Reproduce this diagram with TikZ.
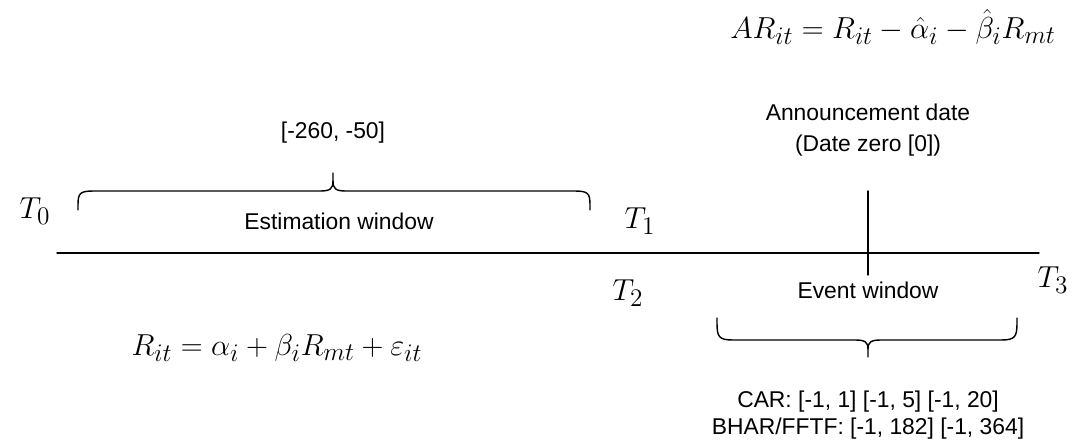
\documentclass[tikz,border=0pt]{standalone}
\usepackage[no-math]{fontspec}
\setmainfont{Liberation Sans}
\tikzset{
  txt/.style={font=\fontsize{13}{15}\selectfont,inner sep=1pt},
  mth/.style={font=\fontsize{19}{22}\selectfont,inner sep=1pt},
  brc/.style={line width=0.8pt}
}
\begin{document}
\begin{tikzpicture}[x=0.02cm,y=0.02cm,line cap=round,line join=round]
  \useasboundingbox (0,0) rectangle (1082,447);
  % time axis and day zero
  \coordinate (a0) at (57,194);
  \coordinate (a1) at (1039,194);
  \draw[line width=0.8pt] (a0) -- (a1);
  \coordinate (d0) at (868,256);
  \coordinate (d1) at (868,172);
  \draw[line width=0.8pt] (d0) -- (d1);
  % estimation window
  \draw[brc] (78,237) -- (78,242) .. controls (78,254) and (80,256) .. (94,256)
    -- (320,256) .. controls (330,256) and (333,258) .. (333,266) -- (333,274);
  \draw[brc] (333,266) .. controls (333,258) and (336,256) .. (346,256)
    -- (574,256) .. controls (588,256) and (590,254) .. (590,242) -- (590,237);
  \node[txt] (est) at (339,226) {Estimation window};
  \node[txt] (estrange) at (333,314) {[-260, -50]};
  % event window
  \draw[brc] (717,129) -- (717,124) .. controls (717,110) and (719,107) .. (733,107)
    -- (855,107) .. controls (865,107) and (868,105) .. (868,98) -- (868,90);
  \draw[brc] (868,98) .. controls (868,105) and (871,107) .. (881,107)
    -- (1001,107) .. controls (1015,107) and (1017,110) .. (1017,124) -- (1017,129);
  \node[txt] (evt) at (868,157) {Event window};
  \node[txt,align=center] (evtrange) at (868,32)
    {CAR: [-1, 1] [-1, 5] [-1, 20]\\BHAR/FFTF: [-1, 182] [-1, 364]};
  \node[txt,align=center,font=\fontsize{13}{17.6}\selectfont] (ann) at (868,317)
    {Announcement date\\(Date zero [0])};
  % time points
  \node[mth] (t0) at (35,236) {$T_0$};
  \node[mth] (t1) at (640,226) {$T_1$};
  \node[mth] (t2) at (628,154) {$T_2$};
  \node[mth] (t3) at (1053,167) {$T_3$};
  % models
  \node[mth] (market) at (277,99) {$R_{it}=\alpha_i+\beta_iR_{mt}+\varepsilon_{it}$};
  \node[mth] (abret) at (893,420) {$AR_{it}=R_{it}-\hat{\alpha}_i-\hat{\beta}_iR_{mt}$};
\end{tikzpicture}
\end{document}
